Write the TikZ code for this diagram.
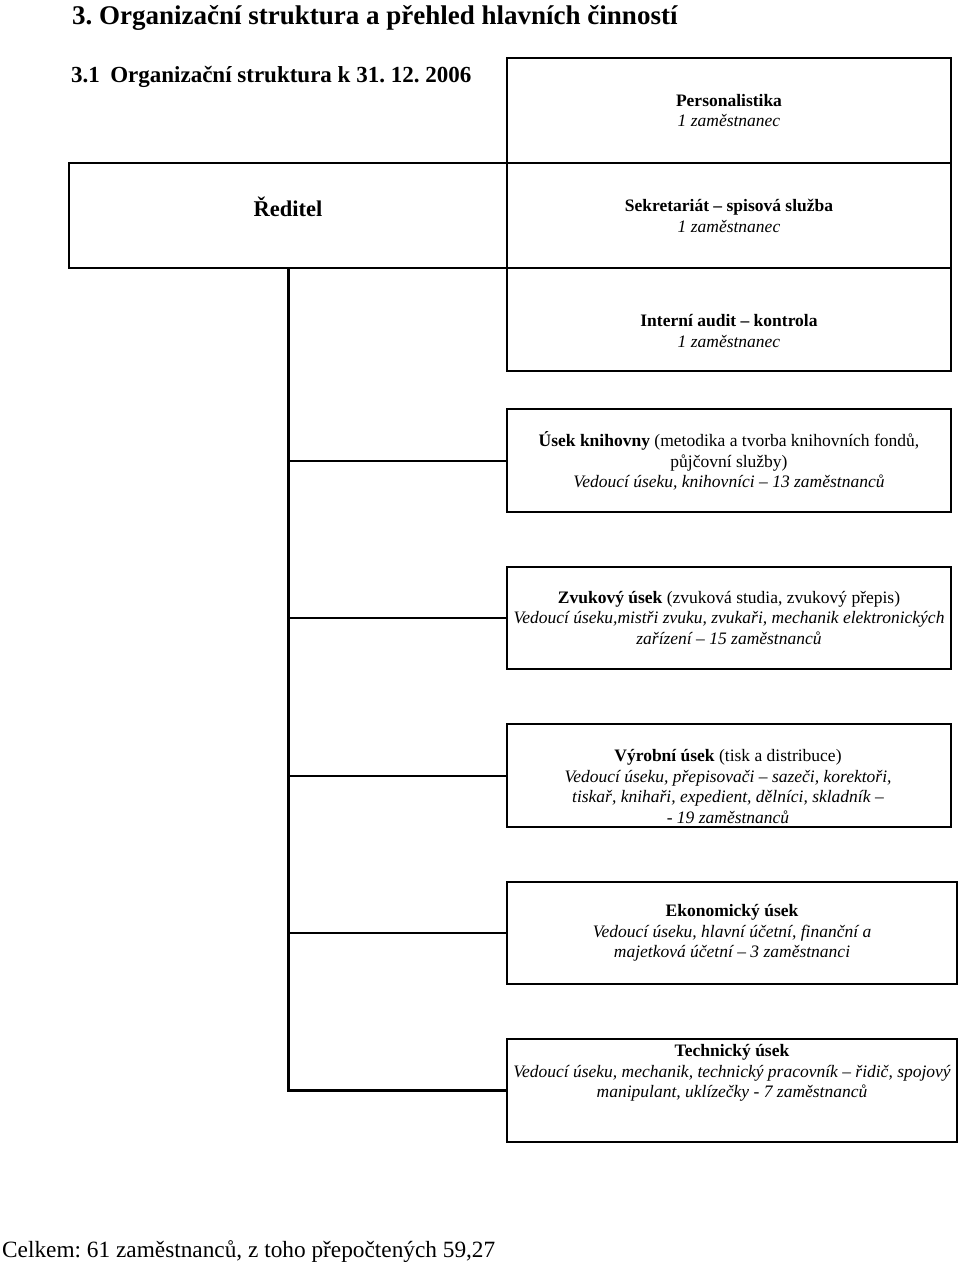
\documentclass[tikz,border=0pt]{standalone}
\usepackage{fontspec}
\setmainfont{Liberation Serif}
\usetikzlibrary{fit}
\frenchspacing
\begin{document}
\begin{tikzpicture}[x=1pt,y=-1pt,
  box/.style={draw, line width=1.8pt, inner sep=0pt},
  txt/.style={align=center, inner sep=0pt, font=\fontsize{17.5}{20.5}\selectfont},
  branch/.style={line width=2pt},
  trunk/.style={line width=3pt}]
\fill[white] (0,0) rectangle (960,1270);
\useasboundingbox (0,0) rectangle (960,1270);
% titles
\node[anchor=base west, inner sep=0pt, font=\fontsize{27}{31}\selectfont\bfseries] (title) at (72,24) {3. Organizační struktura a přehled hlavních činností};
\node[anchor=base west, inner sep=0pt, font=\fontsize{23}{27}\selectfont\bfseries] (subtitle) at (71,82) {3.1\hspace{0.45em}Organizační struktura k 31. 12. 2006};
% boxes
\node[box, fit={(507,58) (951,163)}] (pers) {};
\node[box, fit={(69,163) (507,268)}] (red) {};
\node[box, fit={(507,163) (951,268)}] (sekr) {};
\node[box, fit={(507,268) (951,371)}] (audit) {};
\node[box, fit={(507,409) (951,512)}] (knih) {};
\node[box, fit={(507,567) (951,669)}] (zvuk) {};
\node[box, fit={(507,724) (951,827)}] (vyr) {};
\node[box, fit={(507,882) (957,984)}] (eko) {};
\node[box, fit={(507,1039) (957,1142)}] (tech) {};
% texts
\node[txt] (persT) at (729,110.5) {\textbf{Personalistika}\\\textit{1 zaměstnanec}};
\node[txt, font=\fontsize{22.5}{26}\selectfont\bfseries] (redT) at (288,207) {Ředitel};
\node[txt] (sekrT) at (729,216) {\textbf{Sekretariát – spisová služba}\\\textit{1 zaměstnanec}};
\node[txt] (auditT) at (729,331) {\textbf{Interní audit – kontrola}\\\textit{1 zaměstnanec}};
\node[txt] (knihT) at (729,461) {\textbf{Úsek knihovny} (metodika a tvorba knihovních fondů,\\půjčovní služby)\\\textit{Vedoucí úseku, knihovníci – 13 zaměstnanců}};
\node[txt] (zvukT) at (729,618) {\textbf{Zvukový úsek} (zvuková studia, zvukový přepis)\\\textit{Vedoucí úseku,mistři zvuku, zvukaři, mechanik elektronických}\\\textit{zařízení – 15 zaměstnanců}};
\node[txt] (vyrT) at (728,786.5) {\textbf{Výrobní úsek} (tisk a distribuce)\\\textit{Vedoucí úseku, přepisovači – sazeči, korektoři,}\\\textit{tiskař, knihaři, expedient, dělníci, skladník –}\\\textit{- 19 zaměstnanců}};
\node[txt] (ekoT) at (732,933) {\textbf{Ekonomický úsek}\\\textit{Vedoucí úseku, hlavní účetní, finanční a}\\\textit{majetková účetní – 3 zaměstnanci}};
\node[txt] (techT) at (732,1073) {\textbf{Technický úsek}\\\textit{Vedoucí úseku, mechanik, technický pracovník – řidič, spojový}\\\textit{manipulant, uklízečky - 7 zaměstnanců}};
% connectors
\draw[trunk] (red.south) -- (red.south |- tech.west) -- (tech.west);
\draw[branch] (red.south |- knih.west) -- (knih.west);
\draw[branch] (red.south |- zvuk.west) -- (zvuk.west);
\draw[branch] (red.south |- vyr.west) -- (vyr.west);
\draw[branch] (red.south |- eko.west) -- (eko.west);
% total
\node[anchor=base west, inner sep=0pt, font=\fontsize{23.3}{27}\selectfont] (total) at (2,1257) {Celkem: 61 zaměstnanců, z toho přepočtených 59,27};
\end{tikzpicture}
\end{document}
